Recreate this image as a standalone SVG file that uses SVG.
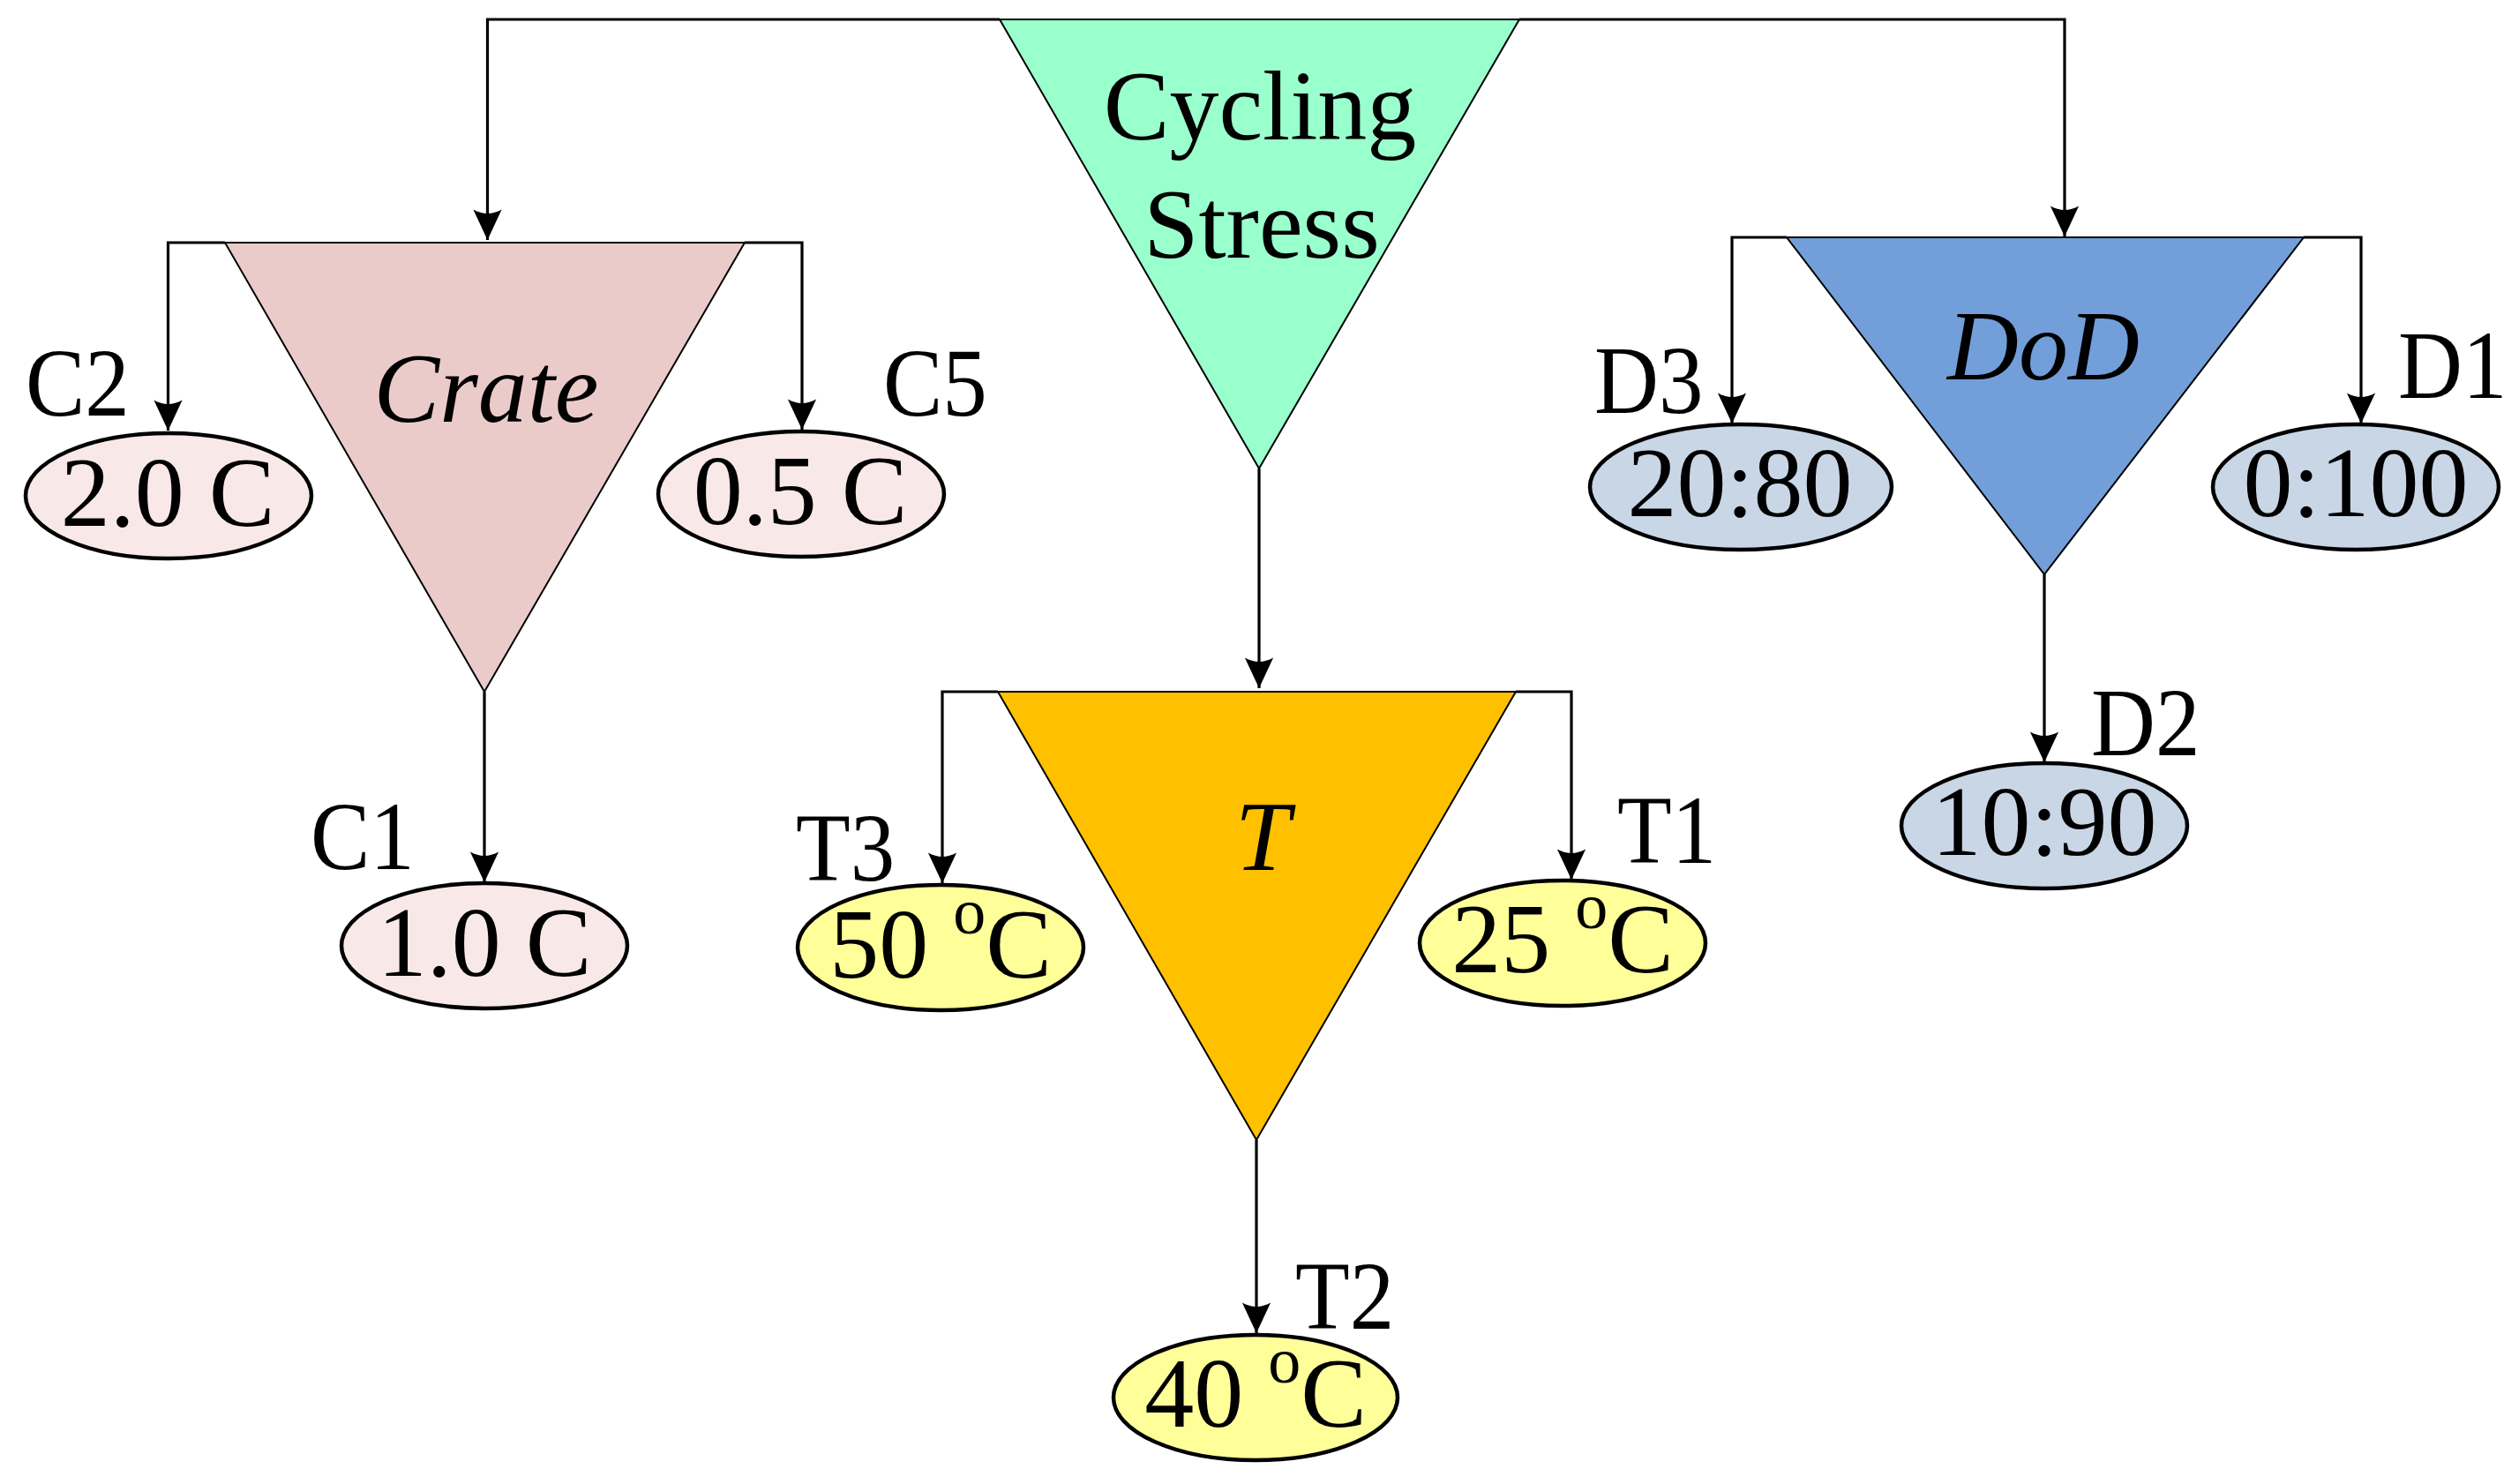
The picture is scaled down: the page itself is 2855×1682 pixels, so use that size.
<svg xmlns="http://www.w3.org/2000/svg" width="2855" height="1682" viewBox="0 0 2855 1682">
<defs>
<marker id="arr" markerUnits="userSpaceOnUse" markerWidth="40" markerHeight="40" viewBox="-34 -18 36 36" refX="0" refY="0" orient="auto">
<path d="M0,0 L-31,-14.5 Q-23,0 -31,14.5 Z" fill="#000"/>
</marker>
</defs>
<style>
.tri{stroke:#000;stroke-width:2;stroke-linejoin:miter}
.ell{stroke:#000;stroke-width:4.5}
.con{fill:none;stroke:#000;stroke-width:3.2;marker-end:url(#arr)}
.lbl{font-family:"Liberation Serif","Times New Roman",serif;font-size:101px;fill:#000}
.val{font-family:"Liberation Serif","Times New Roman",serif;font-size:112px;fill:#000;text-anchor:middle}
.ttl{font-family:"Liberation Serif","Times New Roman",serif;font-size:112px;fill:#000;text-anchor:middle}
.it{font-style:italic}
.sup{font-size:74px}
</style>
<rect width="2855" height="1682" fill="#fff"/>

<g id="connectors">
<path class="con" d="M1133,22 H552.5 V272"/>
<path class="con" d="M1722,22 H2340 V268"/>
<path class="con" d="M1427,531 V780"/>
<path class="con" d="M255,275 H190.5 V488"/>
<path class="con" d="M844,275 H909 V487"/>
<path class="con" d="M549,784 V1000"/>
<path class="con" d="M1131,784 H1068 V1001"/>
<path class="con" d="M1718,784 H1781 V997"/>
<path class="con" d="M1424,1292 V1511"/>
<path class="con" d="M2025,269 H1963 V480"/>
<path class="con" d="M2611,269 H2676 V480"/>
<path class="con" d="M2317,651 V864"/>
</g>

<g id="cycling-stress">
<polygon class="tri" points="1133,22 1722,22 1427,531" fill="#99FFCC"/>
<text class="ttl" x="1428" y="158">Cycling</text>
<text class="ttl" x="1430" y="292">Stress</text>
</g>

<g id="crate">
<polygon class="tri" points="255,275 844,275 549,784" fill="#EBCBCA"/>
<text class="ttl it" x="551" y="478">Crate</text>
</g>

<g id="temperature">
<polygon class="tri" points="1131,784 1718,784 1424,1292" fill="#FFC000"/>
<text class="ttl it" x="1431" y="986">T</text>
</g>

<g id="dod">
<polygon class="tri" points="2025,269 2611,269 2317,651" fill="#729FDA"/>
<text class="ttl it" x="2316" y="430">DoD</text>
</g>

<g id="c2">
<ellipse class="ell" cx="191" cy="562" rx="162" ry="71" fill="#F8E9E8"/>
<text class="val" x="190" y="596">2.0 C</text>
<text class="lbl" transform="translate(29,471) scale(1,1.08)">C2</text>
</g>
<g id="c5">
<ellipse class="ell" cx="908" cy="560" rx="162" ry="71" fill="#F8E9E8"/>
<text class="val" x="907" y="594">0.5 C</text>
<text class="lbl" transform="translate(1001,471) scale(1,1.08)">C5</text>
</g>
<g id="c1">
<ellipse class="ell" cx="549" cy="1072" rx="162" ry="71" fill="#F8E9E8"/>
<text class="val" x="549" y="1106">1.0 C</text>
<text class="lbl" transform="translate(352,985) scale(1,1.08)">C1</text>
</g>

<g id="t3">
<ellipse class="ell" cx="1066" cy="1074" rx="162" ry="71" fill="#FFFF99"/>
<text class="val" x="1066" y="1108">50 <tspan class="sup" dy="-50">o</tspan><tspan dy="50">C</tspan></text>
<text class="lbl" transform="translate(902,998) scale(1,1.08)">T3</text>
</g>
<g id="t1">
<ellipse class="ell" cx="1771" cy="1069" rx="162" ry="71" fill="#FFFF99"/>
<text class="val" x="1771" y="1102">25 <tspan class="sup" dy="-50">o</tspan><tspan dy="50">C</tspan></text>
<text class="lbl" transform="translate(1833,978) scale(1,1.08)">T1</text>
</g>
<g id="t2">
<ellipse class="ell" cx="1423" cy="1584" rx="161" ry="71" fill="#FFFF99"/>
<text class="val" x="1423" y="1617">40 <tspan class="sup" dy="-50">o</tspan><tspan dy="50">C</tspan></text>
<text class="lbl" transform="translate(1468,1506) scale(1,1.08)">T2</text>
</g>

<g id="d3">
<ellipse class="ell" cx="1973" cy="552" rx="171" ry="71" fill="#C9D6E6"/>
<text class="val" x="1972" y="585">20:80</text>
<text class="lbl" transform="translate(1807,468) scale(1,1.08)">D3</text>
</g>
<g id="d1">
<ellipse class="ell" cx="2670" cy="552" rx="162" ry="71" fill="#C9D6E6"/>
<text class="val" x="2670" y="585">0:100</text>
<text class="lbl" transform="translate(2718,451) scale(1,1.08)">D1</text>
</g>
<g id="d2">
<ellipse class="ell" cx="2317" cy="936" rx="162" ry="71" fill="#C9D6E6"/>
<text class="val" x="2317" y="969">10:90</text>
<text class="lbl" transform="translate(2370,856) scale(1,1.08)">D2</text>
</g>
</svg>
